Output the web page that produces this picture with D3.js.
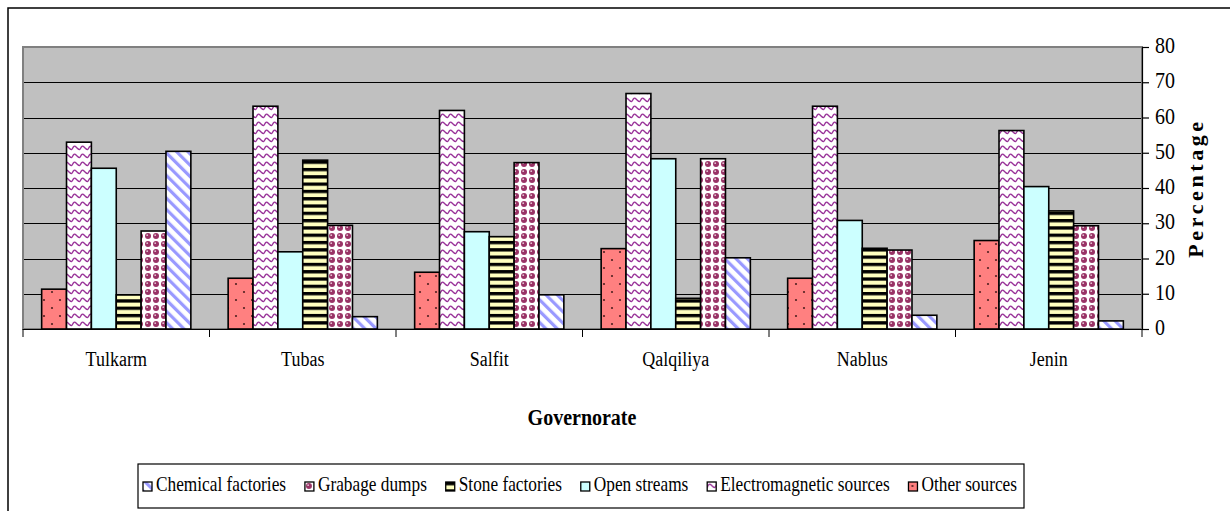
<!DOCTYPE html>
<html><head><meta charset="utf-8">
<script src="https://cdn.jsdelivr.net/npm/d3@7"></script>
<style>html,body{margin:0;padding:0;background:#fff;} svg{display:block;} text{font-family:"Liberation Serif", "Times New Roman", Times, serif;}</style>
</head><body>
<svg id="chart" width="1230" height="511"></svg>
<script>
const categories = ["Tulkarm","Tubas","Salfit","Qalqiliya","Nablus","Jenin"];
const seriesNames = ["Other sources","Electromagnetic sources","Open streams","Stone factories","Grabage dumps","Chemical factories"];
const otherSources    = [11.3, 14.4, 16.1, 22.8, 14.4, 25.1];
const electromagnetic = [53.0, 63.2, 62.0, 66.8, 63.2, 56.3];
const openStreams     = [45.6, 21.9, 27.6, 48.3, 30.8, 40.4];
const stoneFactories  = [9.7, 47.9, 26.2, 8.7, 22.9, 33.5];
const garbageDumps    = [27.8, 29.4, 47.2, 48.3, 22.4, 29.3];
const chemicalFact    = [50.4, 3.5, 9.7, 20.2, 3.9, 2.3];
const seriesValues = [otherSources, electromagnetic, openStreams, stoneFactories, garbageDumps, chemicalFact];
const yTicks = [0,10,20,30,40,50,60,70,80];
const legendOrder = ["Chemical factories","Grabage dumps","Stone factories","Open streams","Electromagnetic sources","Other sources"];

const svg = d3.select("#chart");
const FONT = '"Liberation Serif", "Times New Roman", Times, serif';
const defs = svg.append("defs");

const pid = {};
function mk(id, w, h, fn, tr){
  const p = defs.append("pattern").attr("id", id).attr("patternUnits","userSpaceOnUse")
    .attr("width", w).attr("height", h);
  if (tr) p.attr("patternTransform", tr);
  fn(p);
  return "url(#"+id+")";
}
pid["Other sources"] = mk("pOther", 16, 16, p => {
  p.append("rect").attr("width",16).attr("height",16).attr("fill","#FF8080");
  p.append("circle").attr("cx",4).attr("cy",4).attr("r",1.1).attr("fill","#502020");
  p.append("circle").attr("cx",12).attr("cy",12).attr("r",1.1).attr("fill","#502020");
});
pid["Electromagnetic sources"] = mk("pEM", 8, 8, p => {
  p.append("rect").attr("width",8).attr("height",8).attr("fill","#fff");
  p.append("path").attr("d","M0,5.5 Q2,0.5 4,3 T8,5.5").attr("fill","none").attr("stroke","#993399").attr("stroke-width",1.3);
});
pid["Open streams"] = mk("pOpen", 8, 8, p => {
  p.append("rect").attr("width",8).attr("height",8).attr("fill","#CCFFFF");
});
pid["Stone factories"] = mk("pStone", 8, 7.3, p => {
  p.append("rect").attr("width",8).attr("height",7.3).attr("fill","#FFFFC0");
  p.append("rect").attr("width",8).attr("height",3.3).attr("fill","#000");
});
pid["Grabage dumps"] = mk("pGarb", 8, 8, p => {
  p.append("rect").attr("width",8).attr("height",8).attr("fill","#fff");
  p.append("circle").attr("cx",4).attr("cy",4).attr("r",3).attr("fill","#993366");
  p.append("circle").attr("cx",3.2).attr("cy",3.2).attr("r",0.9).attr("fill","#fff").attr("opacity",0.7);
});
pid["Chemical factories"] = mk("pChem", 8, 8, p => {
  p.append("rect").attr("width",8).attr("height",8).attr("fill","#fff");
  p.append("rect").attr("x",0).attr("y",0).attr("width",3.2).attr("height",8).attr("fill","#9999FF");
}, "rotate(-45)");

svg.append("rect").attr("x",8).attr("y",8).attr("width",1300).attr("height",600)
  .attr("fill","#fff").attr("stroke","#000").attr("stroke-width",1.5);

const plot = {l:23, r:1142, t:47, b:329};
const x0 = d3.scaleBand().domain(categories).range([plot.l, plot.r]).padding(0);
const step = x0.bandwidth();
const bw = step / 7.5;
const x1 = d3.scaleBand().domain(seriesNames).range([0.75*bw, step - 0.75*bw]).padding(0);
const y = d3.scaleLinear().domain([0,80]).range([plot.b, plot.t]);

svg.append("rect").attr("x",plot.l).attr("y",plot.t).attr("width",plot.r-plot.l).attr("height",plot.b-plot.t)
  .attr("fill","#C0C0C0");

svg.append("g").selectAll("line").data(yTicks.filter(v => v>0 && v<80)).join("line")
  .attr("x1",plot.l).attr("x2",plot.r).attr("y1",d=>Math.round(y(d))+0.5).attr("y2",d=>Math.round(y(d))+0.5)
  .attr("stroke","#000").attr("stroke-width",1);

svg.append("rect").attr("x",plot.l).attr("y",plot.t).attr("width",plot.r-plot.l).attr("height",plot.b-plot.t)
  .attr("fill","none").attr("stroke","#808080").attr("stroke-width",2);

const data = [];
categories.forEach((c,i) => seriesNames.forEach((s,j) => data.push({c, s, v: seriesValues[j][i]})));
svg.append("g").selectAll("rect").data(data).join("rect")
  .attr("x", d => x0(d.c) + x1(d.s))
  .attr("y", d => y(d.v))
  .attr("width", x1.bandwidth())
  .attr("height", d => y(0) - y(d.v))
  .attr("fill", d => pid[d.s])
  .attr("stroke","#000").attr("stroke-width",1.6);

const yAxis = d3.axisRight(y).tickValues(yTicks).tickSize(7).tickPadding(6).tickFormat(d3.format("d"));
const ya = svg.append("g").attr("transform",`translate(${plot.r},0)`).call(yAxis);
ya.attr("font-family", null).attr("font-size", null);
ya.select(".domain").attr("stroke","#000").attr("stroke-width",1.2);
ya.selectAll(".tick line").attr("stroke","#000").attr("stroke-width",1.2);
ya.selectAll(".tick text").attr("font-family",FONT).attr("font-size",20).attr("fill","#000")
  .attr("dy", null).attr("dominant-baseline","middle").attr("transform","scale(1,1.2)");

const xa = svg.append("g");
xa.append("line").attr("x1",plot.l).attr("x2",plot.r).attr("y1",plot.b+0.5).attr("y2",plot.b+0.5)
  .attr("stroke","#000").attr("stroke-width",1);
const bounds = categories.map(c => x0(c)).concat([plot.r]);
xa.selectAll("line.tk").data(bounds).join("line").attr("class","tk")
  .attr("x1",d=>d).attr("x2",d=>d).attr("y1",plot.b).attr("y2",plot.b+8)
  .attr("stroke","#000").attr("stroke-width",1);
xa.selectAll("text").data(categories).join("text")
  .attr("transform", d => `translate(${x0(d)+step/2},${361}) scale(1,1.2)`)
  .attr("text-anchor","middle").attr("dominant-baseline","middle")
  .attr("font-family",FONT).attr("font-size",18).text(d=>d);

svg.append("text").attr("transform",`translate(582,419) scale(1,1.2)`)
  .attr("text-anchor","middle").attr("dominant-baseline","middle")
  .attr("font-family",FONT).attr("font-size",20).attr("font-weight","bold").text("Governorate");
svg.append("text").attr("transform",`translate(1198,${(plot.t+plot.b)/2}) rotate(-90)`)
  .attr("text-anchor","middle").attr("dominant-baseline","middle")
  .attr("font-family",FONT).attr("font-size",22).attr("font-weight","bold")
  .attr("letter-spacing","3.6px").text("Percentage");

const lg = {l:138, t:464, r:1024, b:508};
svg.append("rect").attr("x",lg.l).attr("y",lg.t).attr("width",lg.r-lg.l).attr("height",lg.b-lg.t)
  .attr("fill","#fff").attr("stroke","#000").attr("stroke-width",1.2);
const items = svg.append("g").selectAll("g").data(legendOrder).join("g");
items.append("rect").attr("width",9).attr("height",9).attr("fill",d=>pid[d]).attr("stroke","#000").attr("stroke-width",1.3);
items.append("text").attr("x",13).attr("dominant-baseline","middle")
  .attr("transform","translate(0,4.5) scale(1,1.2)")
  .attr("font-family",FONT).attr("font-size",17.3).text(d=>d);
let widths = [];
items.each(function(){ widths.push(13 + d3.select(this).select("text").node().getComputedTextLength()); });
const startX = 143, endX = 1017;
const total = d3.sum(widths);
const gap = (endX - startX - total) / (legendOrder.length - 1);
let cx = startX;
items.each(function(d,i){
  d3.select(this).attr("transform",`translate(${cx},${482})`);
  cx += widths[i] + gap;
});
</script>
</body></html>
